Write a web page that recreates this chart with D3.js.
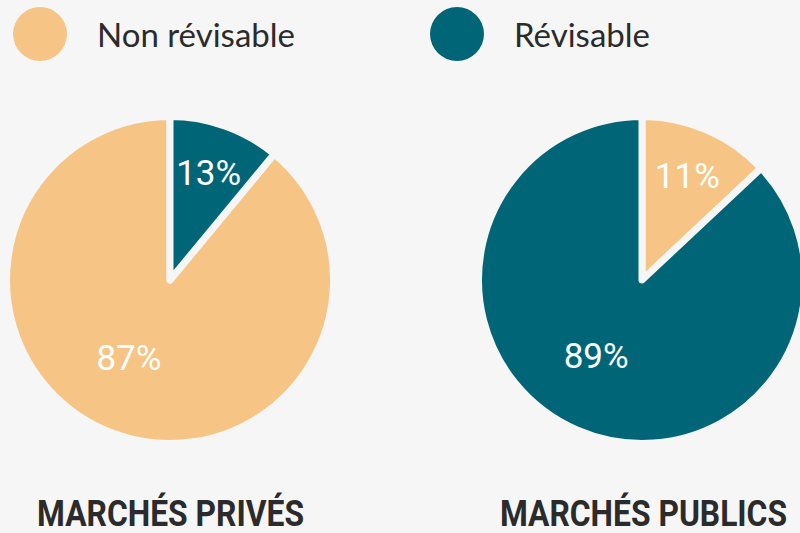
<!DOCTYPE html>
<html>
<head>
<meta charset="utf-8">
<script src="https://cdn.jsdelivr.net/npm/d3@7"></script>
<style>
  html, body { margin: 0; padding: 0; background: #f6f6f6; }
  svg { display: block; }
</style>
</head>
<body>
<div id="chart"></div>
<script>
/* Anonymous Wrapper */
(function() {

// categories, slice shares (as drawn) and the printed labels
var categories    = ["Non révisable", "Révisable"];
var markets       = ["MARCHÉS PRIVÉS", "MARCHÉS PUBLICS"];
var privesShare   = [89, 11];
var publicsShare  = [13, 87];
var privesLabels  = ["87%", "13%"];
var publicsLabels = ["11%", "89%"];

var width = 800, height = 533;
var bg = "#f6f6f6";

var color = d3.scaleOrdinal()
  .domain(categories)
  .range(["#f6c585", "#006677"]);

var svg = d3.select("#chart")
  .append("svg")
  .attr("width", width)
  .attr("height", height);

svg.append("rect")
  .attr("width", width)
  .attr("height", height)
  .attr("fill", bg);

/* Legend */
var legendX = d3.scalePoint().domain(categories).range([40, 457]);
var legend = svg.selectAll(".legend")
  .data(categories)
  .enter().append("g")
  .attr("class", "legend")
  .attr("transform", function(d) { return "translate(" + legendX(d) + ",34)"; });
legend.append("circle")
  .attr("r", 27)
  .attr("fill", function(d) { return color(d); });
legend.append("text")
  .attr("x", 57)
  .attr("y", 13)
  .style("font-family", "Lato, 'Open Sans', sans-serif")
  .style("font-size", "33px")
  .style("fill", "#2b2b2b")
  .text(function(d) { return d; });

/* Pies */
var pieX = d3.scalePoint().domain(markets).range([170, 642]);
var r = 160;
var pie = d3.pie()
  .value(function(d) { return d.value; })
  .sort(function(a, b) { return a.value - b.value; });
var arc = d3.arc().innerRadius(0).outerRadius(r + 3.5);

var shares = [privesShare, publicsShare];
var labels = [privesLabels, publicsLabels];

markets.forEach(function(m, i) {
  var rows = categories.map(function(c, j) {
    return { cat: c, value: shares[i][j], label: labels[i][j] };
  });
  var g = svg.append("g")
    .attr("transform", "translate(" + pieX(m) + ",280)");

  var arcs = pie(rows);
  g.selectAll("path")
    .data(arcs)
    .enter().append("path")
    .attr("d", arc)
    .attr("fill", function(d) { return color(d.data.cat); })
    .attr("stroke", bg)
    .attr("stroke-width", 7)
    .attr("stroke-linejoin", "round");

  g.selectAll(".lbl")
    .data(arcs)
    .enter().append("text")
    .attr("class", "lbl")
    .attr("transform", function(d) {
      var big = d.endAngle - d.startAngle > Math.PI;
      var lr = big ? 88 : 114;
      var a = (d.startAngle + d.endAngle) / 2 + (big ? 0.14 : 0);
      return "translate(" + (Math.sin(a) * lr) + "," + (-Math.cos(a) * lr) + ")";
    })
    .attr("text-anchor", "middle")
    .attr("dy", "0.36em")
    .style("font-family", "Roboto, sans-serif")
    .style("font-weight", 400)
    .style("font-size", "35px")
    .style("fill", "#ffffff")
    .text(function(d) { return d.data.label; });

  g.append("text")
    .attr("x", i === 0 ? -133 : -142)
    .attr("y", 246)
    .attr("textLength", i === 0 ? 267 : 287)
    .attr("lengthAdjust", "spacingAndGlyphs")
    .style("font-family", "Roboto, sans-serif")
    .style("font-weight", 700)
    .style("font-size", "37px")
    .style("fill", "#2b2b2b")
    .text(m);
});

})(); /* Anonymous Wrapper */
</script>
</body>
</html>
